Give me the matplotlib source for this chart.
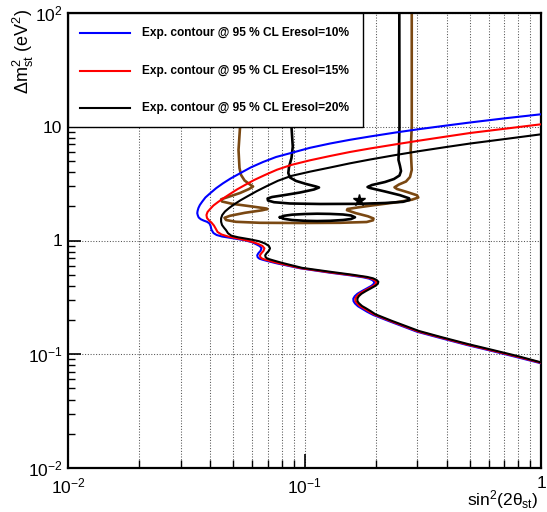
import matplotlib
matplotlib.use('Agg')
import matplotlib.pyplot as plt
from matplotlib.ticker import FixedLocator, FixedFormatter, NullFormatter
from matplotlib.patches import Rectangle
from matplotlib.lines import Line2D

plt.rcParams['font.family'] = ['Liberation Sans', 'DejaVu Sans']
plt.rcParams['mathtext.fontset'] = 'custom'
plt.rcParams['mathtext.rm'] = 'Liberation Sans'
plt.rcParams['mathtext.it'] = 'Liberation Sans:italic'
plt.rcParams['mathtext.bf'] = 'Liberation Sans:bold'

# ---------------- data ----------------
blue_sin2 = [1.0, 0.7046, 0.501, 0.3928, 0.3079, 0.2414, 0.1892, 0.1557, 0.1282, 0.1055,
             0.0877, 0.0758, 0.0668, 0.0594, 0.0534, 0.0487, 0.0452, 0.0423, 0.0399, 0.0381,
             0.0369, 0.0361, 0.0356, 0.0353, 0.0352, 0.0354, 0.0357, 0.0364, 0.0374, 0.0387,
             0.0396, 0.0401, 0.0404, 0.0412, 0.0425, 0.0448, 0.0500, 0.0560, 0.0600, 0.0628,
             0.0648, 0.0658, 0.0652, 0.0638, 0.0631, 0.0634, 0.0645, 0.0664, 0.0701, 0.0763,
             0.0957, 0.1282, 0.1557, 0.1768, 0.1874, 0.1939, 0.1973, 0.1963, 0.1920, 0.1838,
             0.1751, 0.1675, 0.1631, 0.1608, 0.1612, 0.1635, 0.1684, 0.1751, 0.1838, 0.1954,
             0.2299, 0.299, 0.3741, 0.4866, 0.6085, 0.7765, 1.0]
blue_dm2 = [12.87, 11.87, 10.90, 10.21, 9.55, 8.884, 8.21, 7.679, 7.12, 6.53,
            5.88, 5.42, 4.90, 4.40, 3.90, 3.509, 3.18, 2.883, 2.60, 2.388,
            2.19, 2.051, 1.93, 1.816, 1.734, 1.659, 1.593, 1.539, 1.499, 1.460,
            1.416, 1.341, 1.249, 1.164, 1.118, 1.084, 1.045, 1.004, 0.966, 0.922,
            0.891, 0.854, 0.812, 0.772, 0.741, 0.712, 0.692, 0.678, 0.658, 0.630,
            0.570, 0.521, 0.4944, 0.475, 0.4625, 0.4477, 0.4317, 0.4162, 0.3998, 0.3800,
            0.3597, 0.3405, 0.3237, 0.3078, 0.2926, 0.2794, 0.2639, 0.2514, 0.2366, 0.2214,
            0.1940, 0.1578, 0.1392, 0.1206, 0.1079, 0.0952, 0.0833]

red_sin2 = [1.0, 0.7046, 0.501, 0.3928, 0.3079, 0.2414, 0.1892, 0.1557, 0.1282, 0.1055,
            0.0877, 0.0765, 0.0681, 0.0612, 0.0560, 0.0518, 0.0484, 0.0454, 0.0431, 0.0412,
            0.0399, 0.0389, 0.0385, 0.0387, 0.0395, 0.0404, 0.0414, 0.0421, 0.0429, 0.0446,
            0.0475, 0.0534, 0.0594, 0.0636, 0.0664, 0.0677, 0.0671, 0.0657, 0.0648, 0.0651,
            0.0663, 0.0683, 0.0718, 0.0776, 0.0967, 0.1294, 0.1580, 0.1803, 0.1910, 0.1977,
            0.2012, 0.2002, 0.1958, 0.1874, 0.1785, 0.1708, 0.1663, 0.1640, 0.1643, 0.1667,
            0.1716, 0.1785, 0.1874, 0.1983, 0.2322, 0.3019, 0.3778, 0.4913, 0.6144, 0.7841, 1.0]
red_dm2 = [10.51, 9.61, 8.81, 8.17, 7.57, 6.99, 6.44, 6.00, 5.53, 5.07,
           4.61, 4.19, 3.77, 3.40, 3.075, 2.808, 2.564, 2.35, 2.18, 2.031,
           1.892, 1.780, 1.676, 1.577, 1.499, 1.439, 1.355, 1.275, 1.188, 1.129,
           1.084, 1.031, 0.980, 0.935, 0.895, 0.854, 0.812, 0.772, 0.741, 0.712,
           0.692, 0.678, 0.659, 0.632, 0.571, 0.5233, 0.4964, 0.4768, 0.4634, 0.4486,
           0.4317, 0.4162, 0.3998, 0.3800, 0.3597, 0.3405, 0.3237, 0.3078, 0.2926, 0.2799,
           0.2650, 0.2525, 0.2376, 0.2225, 0.1952, 0.1588, 0.1401, 0.1213, 0.1085, 0.0959, 0.0841]

black_sin2 = [1.0, 0.7046, 0.501, 0.3928, 0.3079, 0.2414, 0.1892, 0.1557, 0.1282, 0.1055,
              0.0877, 0.0772, 0.0694, 0.0630, 0.0577, 0.0536, 0.0503, 0.0480, 0.0461, 0.0449,
              0.0444, 0.0444, 0.0448, 0.0457, 0.0466, 0.0475, 0.0491, 0.0524, 0.0588, 0.0642,
              0.0681, 0.0706, 0.0715, 0.0707, 0.0691, 0.0682, 0.0685, 0.0698, 0.0718, 0.0750,
              0.0803, 0.0976, 0.1307, 0.1604, 0.1838, 0.1948, 0.2016, 0.2052, 0.2042, 0.1996,
              0.1910, 0.1820, 0.1742, 0.1696, 0.1673, 0.1675, 0.1700, 0.1751, 0.1820, 0.1910,
              0.1996, 0.2344, 0.3049, 0.3815, 0.4961, 0.6204, 0.7917, 1.0]
black_dm2 = [8.58, 7.80, 7.12, 6.61, 6.12, 5.63, 5.15, 4.77, 4.38, 4.03,
             3.69, 3.35, 3.014, 2.724, 2.461, 2.256, 2.073, 1.93, 1.798, 1.676,
             1.567, 1.460, 1.369, 1.293, 1.232, 1.157, 1.102, 1.067, 1.024, 0.986,
             0.941, 0.898, 0.854, 0.812, 0.772, 0.741, 0.712, 0.692, 0.680, 0.662,
             0.636, 0.575, 0.5284, 0.4995, 0.4786, 0.4653, 0.4505, 0.4334, 0.4162, 0.3998,
             0.3800, 0.3597, 0.3405, 0.3237, 0.3078, 0.2926, 0.2805, 0.2655, 0.2535, 0.2385,
             0.2244, 0.1964, 0.1601, 0.1410, 0.1223, 0.1094, 0.0967, 0.0849]

# allowed-region contours (black and brown) and best fit point
island_sin2 = [0.0877, 0.0881, 0.0892, 0.0881, 0.0860, 0.0854, 0.0868, 0.0921, 0.1015, 0.1118,
               0.1152, 0.1097, 0.0957, 0.0827, 0.0729, 0.0698, 0.0701, 0.0743, 0.0868, 0.1163,
               0.1684, 0.2190, 0.2609, 0.2780, 0.2767, 0.2534, 0.2190, 0.1892, 0.1847, 0.1929,
               0.2190, 0.2390, 0.2521, 0.2559, 0.2534, 0.2497, 0.2509, 0.2521, 0.2517]
island_dm2 = [100, 10.0, 6.68, 5.31, 4.43, 3.92, 3.58, 3.34, 3.14, 2.984,
              2.923, 2.808, 2.642, 2.512, 2.412, 2.340, 2.247, 2.171, 2.115, 2.094,
              2.10, 2.136, 2.188, 2.27, 2.35, 2.502, 2.697, 2.894, 2.953, 3.075,
              3.268, 3.473, 3.728, 4.08, 4.52, 5.10, 6.68, 10.0, 100]

ellipse_sin2 = [0.0788, 0.0819, 0.0885, 0.1005, 0.1130, 0.1282, 0.1455, 0.1573, 0.1635,
                0.1573, 0.1455, 0.1282, 0.1130, 0.1005, 0.0885, 0.0819, 0.0788]
ellipse_dm2 = [1.600, 1.649, 1.686, 1.710, 1.720, 1.713, 1.693, 1.659, 1.600,
               1.545, 1.514, 1.490, 1.483, 1.490, 1.514, 1.551, 1.600]

brown_sin2 = [0.0534, 0.0534, 0.0526, 0.0531, 0.0539, 0.0558, 0.0588, 0.0606, 0.0583, 0.0534,
              0.0475, 0.0444, 0.0448, 0.0494, 0.0588, 0.0681, 0.0698, 0.0661, 0.0560, 0.0484,
              0.0459, 0.0466, 0.0513, 0.0648, 0.0957, 0.1413, 0.1832, 0.1948, 0.1958, 0.1856,
              0.1651, 0.1512, 0.1520, 0.1684, 0.1948, 0.2414, 0.2848, 0.3028, 0.2990, 0.2739,
              0.2461, 0.2402, 0.2509, 0.2687, 0.2793, 0.2841, 0.2813, 0.2841, 0.2841]
brown_dm2 = [100, 10.0, 6.25, 4.34, 3.77, 3.37, 3.107, 2.984, 2.836, 2.616,
             2.412, 2.302, 2.202, 2.102, 2.002, 1.919, 1.892, 1.843, 1.752, 1.649,
             1.584, 1.514, 1.460, 1.431, 1.425, 1.431, 1.454, 1.505, 1.561, 1.632,
             1.738, 1.847, 1.892, 1.954, 2.039, 2.159, 2.285, 2.388, 2.497, 2.652,
             2.836, 2.936, 3.107, 3.302, 3.615, 4.17, 6.25, 10.0, 100]

best_sin2 = [0.17]
best_dm2 = [2.27]

legend_labels = ['Exp. contour @ 95 % CL Eresol=10%',
                 'Exp. contour @ 95 % CL Eresol=15%',
                 'Exp. contour @ 95 % CL Eresol=20%']
series_colors = ['#0000ff', '#ff0000', '#000000']
brown = '#7a4812'

x_ticks = [0.01, 0.1, 1.0]
x_ticklabels = [r'$\mathdefault{10^{-2}}$', r'$\mathdefault{10^{-1}}$', '1']
y_ticks = [0.01, 0.1, 1.0, 10.0, 100.0]
y_ticklabels = [r'$\mathdefault{10^{-2}}$', r'$\mathdefault{10^{-1}}$', '1', '10', r'$\mathdefault{10^{2}}$']

# ---------------- figure ----------------
fig = plt.figure(figsize=(5.47, 5.12), dpi=100)
ax = fig.add_axes([68/547, 44/512, 473/547, 455/512])
ax.set_xscale('log')
ax.set_yscale('log')
ax.set_xlim(0.01, 1.0)
ax.set_ylim(0.01, 100.0)

minor_x = [m * d for d in (0.01, 0.1) for m in range(2, 10)]
minor_y = [m * d for d in (0.01, 0.1, 1, 10) for m in range(2, 10)]
ax.xaxis.set_major_locator(FixedLocator(x_ticks))
ax.xaxis.set_major_formatter(FixedFormatter(x_ticklabels))
ax.xaxis.set_minor_locator(FixedLocator(minor_x))
ax.xaxis.set_minor_formatter(NullFormatter())
ax.yaxis.set_major_locator(FixedLocator(y_ticks))
ax.yaxis.set_major_formatter(FixedFormatter(y_ticklabels))
ax.yaxis.set_minor_locator(FixedLocator(minor_y))
ax.yaxis.set_minor_formatter(NullFormatter())

ax.tick_params(axis='x', which='major', direction='in', length=10, width=1.2, labelsize=12.5, pad=6,
               top=False)
ax.tick_params(axis='x', which='minor', direction='in', length=5.5, width=1.0, top=False)
ax.tick_params(axis='y', which='major', direction='in', length=9, width=1.2, labelsize=12.5, pad=4,
               right=False)
ax.tick_params(axis='y', which='minor', direction='in', length=5, width=1.0, right=False)
for s in ax.spines.values():
    s.set_linewidth(1.6)

ax.grid(True, which='both', axis='x', linestyle=':', color='#555555', linewidth=0.75, zorder=0)
ax.grid(True, which='major', axis='y', linestyle=':', color='#555555', linewidth=0.75, zorder=0)
ax.set_axisbelow(True)

# contours of allowed region
ax.plot(brown_sin2, brown_dm2, color=brown, lw=1.9, zorder=2)
ax.plot(island_sin2, island_dm2, color='black', lw=1.9, zorder=2)
ax.plot(ellipse_sin2, ellipse_dm2, color='black', lw=1.9, zorder=2)
ax.plot(best_sin2, best_dm2, marker='*', color='black', ms=9, ls='none', zorder=4)

# sensitivity curves
for xs, ys, c in zip([blue_sin2, red_sin2, black_sin2], [blue_dm2, red_dm2, black_dm2], series_colors):
    ax.plot(xs, ys, color=c, lw=1.5, zorder=3)

# legend box
ax.add_patch(Rectangle((0.0, 0.7495), 0.6237, 0.2505, transform=ax.transAxes,
                       facecolor='white', edgecolor='black', lw=1.0, zorder=5))
rows = [0.956, 0.873, 0.791]
for lab, c, yr in zip(legend_labels, series_colors, rows):
    ax.add_line(Line2D([0.0254, 0.131], [yr, yr], transform=ax.transAxes, color=c, lw=1.5, zorder=6))
    ax.text(0.156, yr, lab, transform=ax.transAxes, fontsize=8.6, fontweight='bold',
            va='center', ha='left', zorder=6)

# axis titles
fig.text(23/547, 1 - 9/512, r'$\mathdefault{Δm^{2}_{st}\ (eV^{2})}$', rotation=90,
         ha='center', va='top', fontsize=13)
fig.text(538/547, 1 - 505/512, r'$\mathdefault{sin^{2}(2θ_{st})}$', ha='right', va='baseline',
         fontsize=12.5)

fig.savefig('out.png', dpi=100)
